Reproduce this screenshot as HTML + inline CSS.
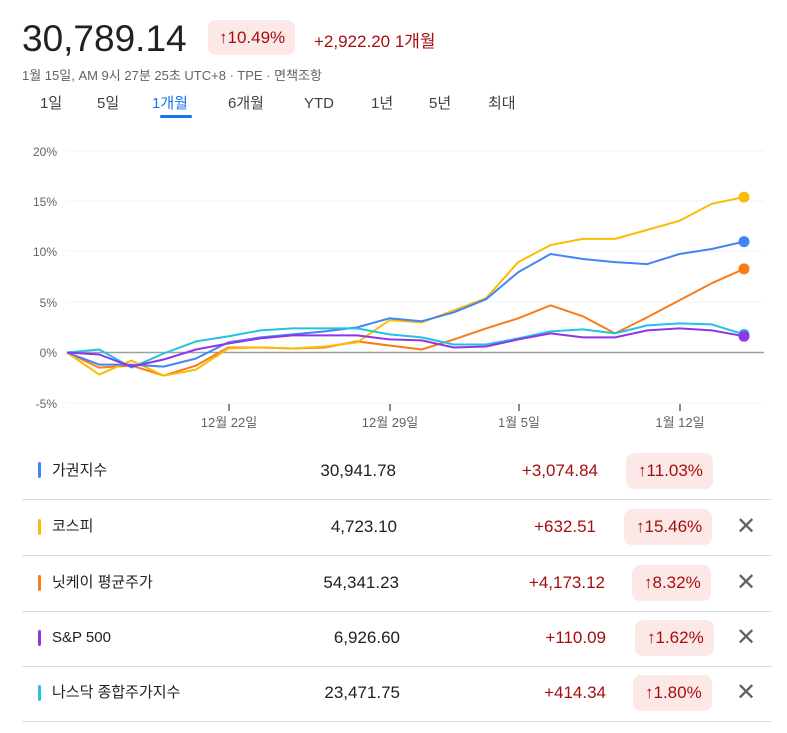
<!DOCTYPE html><html><head><meta charset="utf-8"><style>
body{margin:0;width:787px;height:733px;background:#fff;font-family:"Liberation Sans","Noto Sans CJK KR",sans-serif;position:relative;overflow:hidden}
.a{position:absolute;white-space:nowrap}
.badge{position:absolute;background:#fce8e6;color:#a50e0e;border-radius:8px;height:36px;line-height:36px;font-size:17px;padding:0 10px 0 12px}
.row{position:absolute;left:22px;width:750px;height:55px;border-bottom:1px solid #dadce0}
.bar{position:absolute;left:16px;top:19px;width:3px;height:16px;border-radius:2px}
.nm,.v,.c{position:absolute;top:0;height:54px;line-height:54px}
.nm{left:30px;font-size:15px;color:#202124}
.v{font-size:17px;color:#202124;text-align:right}
.c{font-size:17px;color:#a50e0e;text-align:right}
.x{position:absolute;left:714px;top:0;height:54px;line-height:54px;font-size:24px;color:#5f6368}
.tab{position:absolute;top:0;height:22px;line-height:22px}
</style></head><body>
<div class="a" style="left:22px;top:18px;font-size:37px;color:#202124">30,789.14</div>
<div class="badge" style="left:208px;top:20px;height:35px;line-height:35px;padding:0 10px 0 11px">↑10.49%</div>
<div class="a" style="left:314px;top:27px;font-size:17px;color:#a50e0e">+2,922.20 1개월</div>
<div class="a" style="left:22px;top:65px;font-size:13px;color:#5f6368">1월 15일, AM 9시 27분 25초 UTC+8 · TPE · 면책조항</div>
<div class="a" style="top:93px;font-size:15px;color:#3c4043;left:0;width:787px;height:22px">
<span class="tab" style="left:40px">1일</span><span class="tab" style="left:97px">5일</span><span class="tab" style="left:152px;color:#1a73e8">1개월</span><span class="tab" style="left:228px">6개월</span><span class="tab" style="left:304px">YTD</span><span class="tab" style="left:371px">1년</span><span class="tab" style="left:429px">5년</span><span class="tab" style="left:488px">최대</span></div>
<div class="a" style="left:160px;top:115px;width:32px;height:3px;background:#1a73e8;border-radius:2px"></div>
<svg class="a" style="left:0;top:0" width="787" height="445" id="s">
<g stroke="#f1f3f4" stroke-width="1"><line x1="67" x2="764" y1="151" y2="151"/><line x1="67" x2="764" y1="201" y2="201"/><line x1="67" x2="764" y1="251" y2="251"/><line x1="67" x2="764" y1="302" y2="302"/><line x1="67" x2="764" y1="403" y2="403"/></g>
<line x1="67" x2="764" y1="352.5" y2="352.5" stroke="#9aa0a6" stroke-width="1.5"/>
<g font-size="12" fill="#5f6368" text-anchor="end"><text x="57" y="156">20%</text><text x="57" y="206">15%</text><text x="57" y="256">10%</text><text x="57" y="307">5%</text><text x="57" y="357">0%</text><text x="57" y="408">-5%</text></g>
<g stroke="#5f6368" stroke-width="1.5"><line x1="229" x2="229" y1="404" y2="411"/><line x1="390" x2="390" y1="404" y2="411"/><line x1="519" x2="519" y1="404" y2="411"/><line x1="680" x2="680" y1="404" y2="411"/></g>
<g font-size="13" fill="#5f6368" text-anchor="middle"><text x="229" y="427">12월 22일</text><text x="390" y="427">12월 29일</text><text x="519" y="427">1월 5일</text><text x="680" y="427">1월 12일</text></g>
</svg>
<script>
var d={"#fa7b17":[0,-1.5,-1.3,-2.3,-1.3,0.5,0.5,0.4,0.5,1.1,0.7,0.3,1.3,2.4,3.4,4.7,3.6,1.9,3.5,5.2,6.9,8.32],
"#fbbc04":[0,-2.2,-0.8,-2.3,-1.7,0.4,0.5,0.4,0.6,1.0,3.2,3.0,4.2,5.4,9.0,10.7,11.3,11.3,12.2,13.1,14.8,15.46],
"#4285f4":[0,-1.2,-1.2,-1.4,-0.6,1.0,1.5,1.8,2.1,2.5,3.4,3.1,4.0,5.3,8.0,9.8,9.3,9.0,8.8,9.8,10.3,11.03],
"#24c1e0":[0,0.3,-1.5,-0.1,1.1,1.6,2.2,2.4,2.4,2.4,1.8,1.5,0.8,0.8,1.4,2.1,2.3,1.9,2.7,2.9,2.8,1.80],
"#9334e6":[0,-0.2,-1.4,-0.7,0.3,0.9,1.4,1.7,1.7,1.7,1.3,1.2,0.5,0.6,1.3,1.9,1.5,1.5,2.2,2.4,2.2,1.62]};
var s=document.getElementById('s'),h='';
var order=["#fa7b17","#fbbc04","#4285f4","#24c1e0","#9334e6"];
order.forEach(function(k){var p=d[k].map(function(v,i){return (67+i*677/21).toFixed(1)+','+(352.5-v*10.05).toFixed(1)}).join(' ');
h+='<polyline points="'+p+'" fill="none" stroke="'+k+'" stroke-width="2" stroke-linejoin="round"/>';});
order.forEach(function(k){h+='<circle cx="744" cy="'+(352.5-d[k][21]*10.05)+'" r="5.5" fill="'+k+'"/>';});
s.insertAdjacentHTML('beforeend',h);
</script>
<div class="row" style="top:444px"><div class="bar" style="background:#4285f4;top:18px"></div><div class="nm">가권지수</div><div class="v" style="right:376px">30,941.78</div><div class="c" style="right:174px">+3,074.84</div><div class="badge" style="left:604px;top:9px">↑11.03%</div></div>
<div class="row" style="top:500px"><div class="bar" style="background:#fbbc04"></div><div class="nm">코스피</div><div class="v" style="right:375px">4,723.10</div><div class="c" style="right:176px">+632.51</div><div class="badge" style="left:602px;top:9px">↑15.46%</div><div class="x">✕</div></div>
<div class="row" style="top:556px"><div class="bar" style="background:#fa7b17"></div><div class="nm">닛케이 평균주가</div><div class="v" style="right:373px">54,341.23</div><div class="c" style="right:167px">+4,173.12</div><div class="badge" style="left:610px;top:9px">↑8.32%</div><div class="x">✕</div></div>
<div class="row" style="top:611px"><div class="bar" style="background:#9334e6"></div><div class="nm">S&amp;P 500</div><div class="v" style="right:372px">6,926.60</div><div class="c" style="right:166px">+110.09</div><div class="badge" style="left:613px;top:9px">↑1.62%</div><div class="x">✕</div></div>
<div class="row" style="top:666px"><div class="bar" style="background:#24c1e0"></div><div class="nm">나스닥 종합주가지수</div><div class="v" style="right:372px">23,471.75</div><div class="c" style="right:166px">+414.34</div><div class="badge" style="left:611px;top:9px">↑1.80%</div><div class="x">✕</div></div>
</body></html>
